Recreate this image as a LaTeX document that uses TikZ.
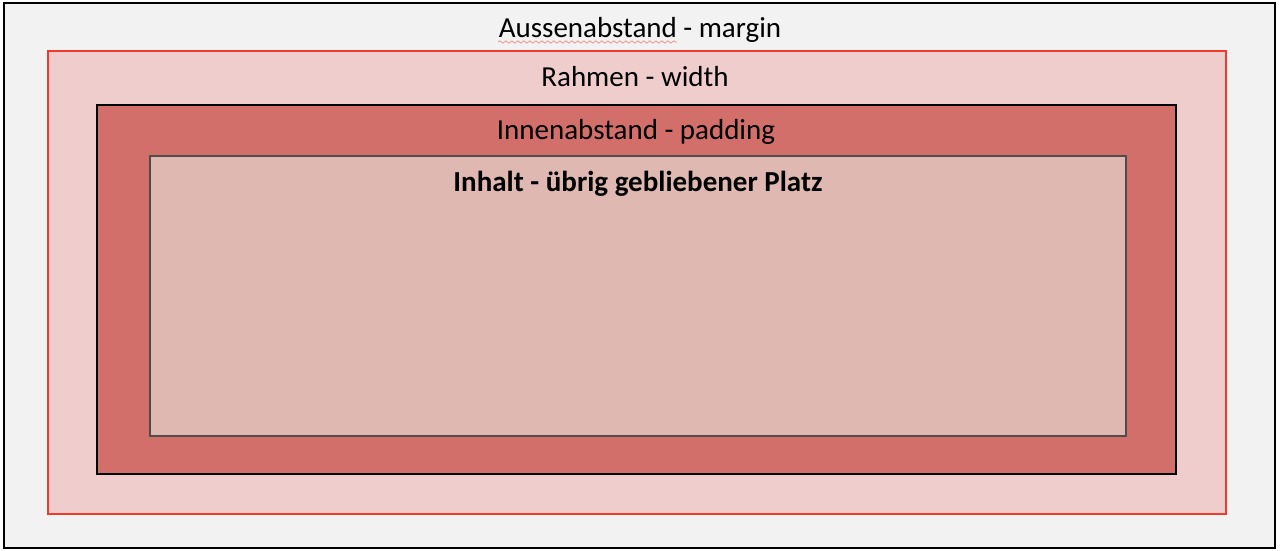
\documentclass[tikz,border=0pt]{standalone}
\usepackage{fontspec}
\setmainfont{Carlito}
\usetikzlibrary{positioning,decorations.pathmorphing}
\definecolor{margingray}{HTML}{F2F2F2}
\definecolor{borderpink}{HTML}{EFCDCD}
\definecolor{borderred}{HTML}{EE3B2C}
\definecolor{paddingred}{HTML}{D36F6B}
\definecolor{contentrose}{HTML}{DFB8B1}
\definecolor{contentline}{HTML}{4D4D4D}
\tikzset{
	layer/.style={
		rectangle,
		line width=1pt,
		inner sep=0pt,
	},
	caption/.style={
		font=\fontsize{14.5}{17}\selectfont,
		inner sep=0pt,
	},
	squiggle/.style={
		decorate,
		decoration={snake,amplitude=0.6pt,segment length=3pt},
		draw=borderred!55,
		line width=0.4pt,
	}
}
\begin{document}
\begin{tikzpicture}[x=0.5pt,y=-0.5pt]

\useasboundingbox (0,0) rectangle (1280,551);

\node[layer,draw=black,fill=margingray,minimum width=635.5pt,minimum height=272.5pt] (margin) at (639.5,275.5) {};
\node[layer,draw=borderred,fill=borderpink,minimum width=589pt,minimum height=231.5pt] (border) at (637,282.5) {};
\node[layer,draw=black,fill=paddingred,minimum width=539.5pt,minimum height=184.5pt] (padding) at (636.5,289.5) {};
\node[layer,draw=contentline,fill=contentrose,minimum width=488pt,minimum height=140pt] (content) at (638,296) {};

\node[caption] (marginlabel) at (640,30) {Aussenabstand - margin};
\node[caption] (borderlabel) at (635,77) {Rahmen - width};
\node[caption] (paddinglabel) at (636,132) {Innenabstand - padding};
\node[caption,font=\fontsize{14.5}{17}\selectfont\bfseries] (contentlabel) at (638,184) {Inhalt - übrig gebliebener Platz};

% spell check mark
\coordinate (sqa) at (498,42);
\coordinate (sqb) at (677,42);
\draw[squiggle] (sqa) -- (sqb);

\end{tikzpicture}
\end{document}
